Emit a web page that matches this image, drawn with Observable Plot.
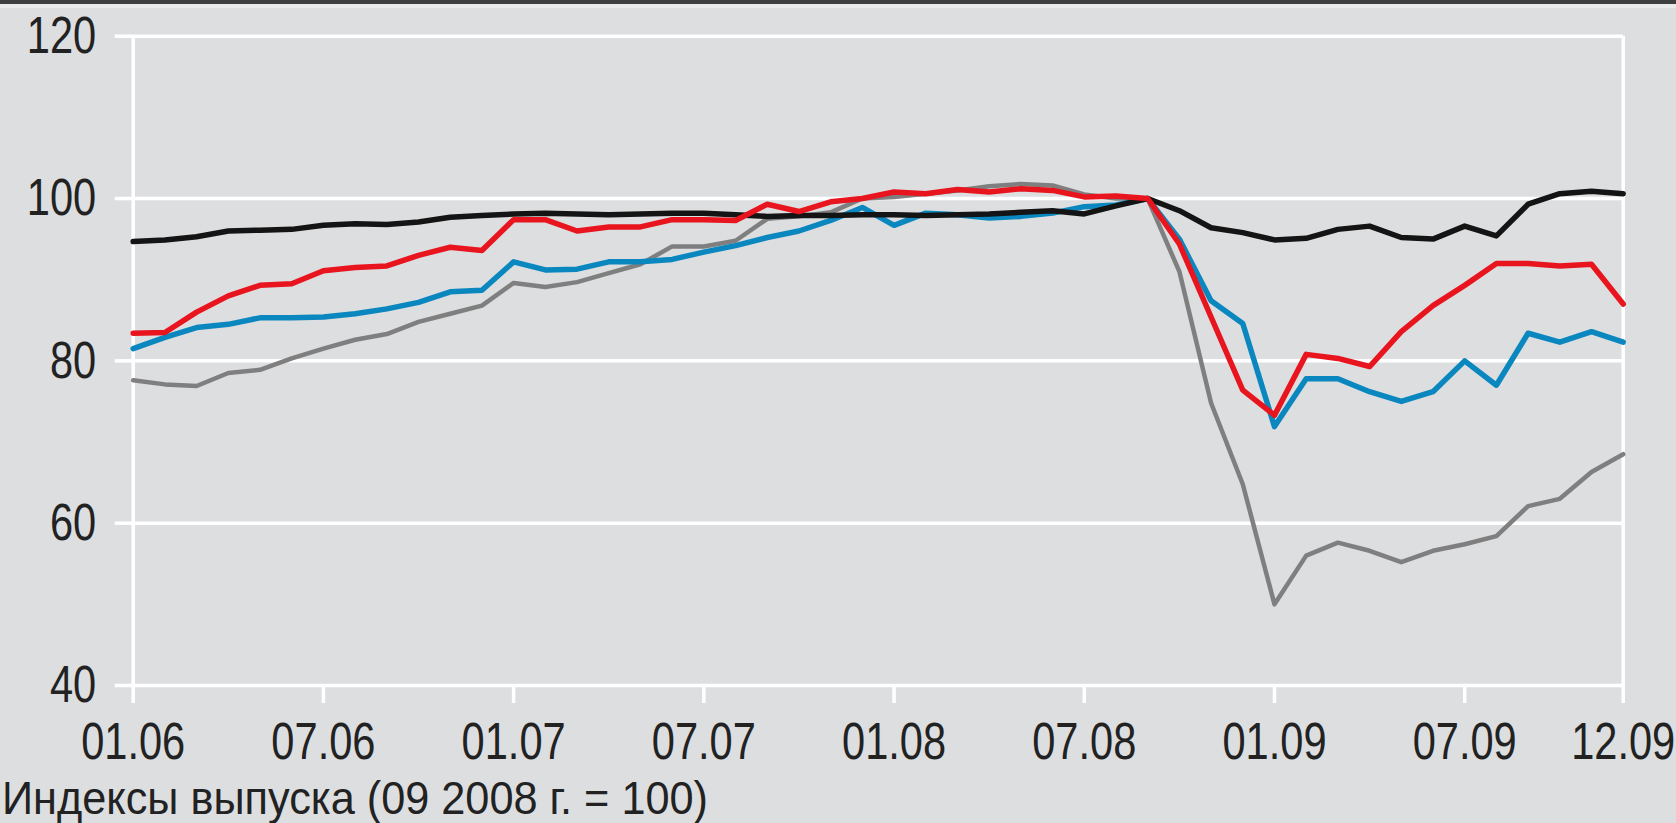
<!DOCTYPE html>
<html>
<head>
<meta charset="utf-8">
<script src="https://cdn.jsdelivr.net/npm/d3@7"></script>
<script src="https://cdn.jsdelivr.net/npm/@observablehq/plot@0.6"></script>
<style>
  html, body { margin: 0; padding: 0; background: #dddee0; width: 1676px; height: 823px; overflow: hidden; }
  #topbar { position: absolute; left: 0; top: 0; width: 1676px; height: 4px; background: #3e3e40; }
  #topbar2 { position: absolute; left: 0; top: 4px; width: 1676px; height: 4px; background: #e9eaeb; }
  #chart { position: absolute; left: 0; top: 0; }
  #caption { position: absolute; left: 2px; top: 773px; font-family: "Liberation Sans", Arial, sans-serif; font-size: 47px; color: #222; line-height: 50px; white-space: nowrap; transform-origin: 0 0; }
</style>
</head>
<body>
<div id="chart"></div>
<div id="topbar"></div>
<div id="topbar2"></div>
<div id="caption">Индексы выпуска (09 2008 г. = 100)</div>
<script>
// Months: 01.2006 ... 12.2009 (index 0..47); 09.2008 = 100
const tickPositions = [0, 6, 12, 18, 24, 30, 36, 42, 47];
const tickLabels = ["01.06", "07.06", "01.07", "07.07", "01.08", "07.08", "01.09", "07.09", "12.09"];
const yTicks = [40, 60, 80, 100, 120];

const blackSeries = [94.7, 94.9, 95.3, 96.0, 96.1, 96.2, 96.7, 96.9, 96.8, 97.1, 97.7, 97.9,
  98.1, 98.2, 98.1, 98.0, 98.1, 98.2, 98.2, 98.0, 97.8, 97.9, 97.9, 98.0,
  98.0, 97.9, 98.0, 98.1, 98.3, 98.5, 98.1, 99.1, 100.0, 98.5, 96.4, 95.8,
  94.9, 95.1, 96.2, 96.6, 95.2, 95.0, 96.6, 95.4, 99.3, 100.6, 100.9, 100.6];

const redSeries = [83.4, 83.5, 86.0, 88.0, 89.3, 89.5, 91.1, 91.5, 91.7, 93.0, 94.0, 93.6,
  97.4, 97.4, 96.0, 96.5, 96.5, 97.4, 97.4, 97.3, 99.3, 98.4, 99.6, 100.0,
  100.8, 100.6, 101.1, 100.8, 101.2, 101.0, 100.2, 100.3, 100.0, 94.4, 85.4, 76.4,
  73.3, 80.8, 80.3, 79.3, 83.6, 86.8, 89.3, 92.0, 92.0, 91.7, 91.9, 87.0];

const blueSeries = [81.5, 82.9, 84.1, 84.5, 85.3, 85.3, 85.4, 85.8, 86.4, 87.2, 88.5, 88.7,
  92.2, 91.2, 91.3, 92.2, 92.2, 92.5, 93.4, 94.2, 95.2, 96.0, 97.3, 98.9,
  96.7, 98.2, 98.0, 97.6, 97.8, 98.2, 99.0, 99.2, 100.0, 95.0, 87.4, 84.6,
  71.9, 77.8, 77.8, 76.2, 75.0, 76.2, 80.0, 77.0, 83.4, 82.3, 83.6, 82.3];

const graySeries = [77.6, 77.1, 76.9, 78.5, 78.9, 80.3, 81.5, 82.6, 83.3, 84.8, 85.8, 86.8,
  89.6, 89.1, 89.7, 90.8, 91.9, 94.1, 94.1, 94.8, 97.5, 97.8, 98.3, 100.0,
  100.2, 100.6, 101.0, 101.5, 101.8, 101.6, 100.5, 100.0, 100.0, 91.0, 74.8, 64.8,
  50.0, 56.0, 57.6, 56.6, 55.2, 56.6, 57.4, 58.4, 62.1, 63.0, 66.3, 68.5];

const toRows = (arr) => arr.map((v, i) => ({i, v}));

const font = '"Liberation Sans", Arial, sans-serif';
const textColor = "#222";
const gridW = 3.5;

const chart = Plot.plot({
  width: 1676,
  height: 775,
  marginLeft: 132.7,
  marginRight: 53.3,
  marginTop: 35.7,
  marginBottom: 90,
  style: { background: "transparent", fontFamily: font },
  x: { domain: [0, 47], axis: null },
  y: { domain: [40, 120], axis: null },
  marks: [
    Plot.ruleY(yTicks, { stroke: "white", strokeWidth: gridW }),
    Plot.ruleX([tickPositions[0], tickPositions[tickPositions.length - 1]], { stroke: "white", strokeWidth: gridW }),
    Plot.axisX({
      ticks: tickPositions,
      tickFormat: (d) => tickLabels[tickPositions.indexOf(d)],
      tickSize: 18, tickPadding: 19,
      stroke: "white", strokeWidth: gridW,
      fill: textColor, fontSize: 52, label: null
    }),
    Plot.axisY({
      ticks: yTicks,
      tickSize: 18, tickPadding: 19,
      stroke: "white", strokeWidth: gridW,
      fill: textColor, fontSize: 52, label: null
    }),
    Plot.line(toRows(graySeries), { x: "i", y: "v", stroke: "#7f7f7f", strokeWidth: 4.5 }),
    Plot.line(toRows(blueSeries), { x: "i", y: "v", stroke: "#0a87bf", strokeWidth: 5.5 }),
    Plot.line(toRows(blackSeries), { x: "i", y: "v", stroke: "#141414", strokeWidth: 5.5 }),
    Plot.line(toRows(redSeries), { x: "i", y: "v", stroke: "#e8141e", strokeWidth: 5.5 })
  ]
});
document.getElementById("chart").appendChild(chart);

// Condense tick label glyphs horizontally (the original uses a narrow typeface)
chart.querySelectorAll('g[aria-label="x-axis tick label"] text, g[aria-label="y-axis tick label"] text').forEach((t) => {
  const tr = t.getAttribute("transform") || "";
  t.setAttribute("transform", tr + " scale(0.8,1)");
});

// Condense the caption to the original's width
const cap = document.getElementById("caption");
const w = cap.getBoundingClientRect().width;
cap.style.transform = `scaleX(${(706 / w).toFixed(4)})`;
</script>
</body>
</html>
